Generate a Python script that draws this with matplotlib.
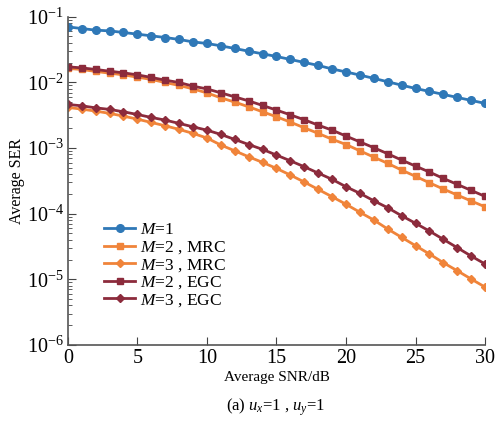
import matplotlib
matplotlib.use('Agg')
import matplotlib.pyplot as plt
import numpy as np

snr_db = list(range(0, 31))

ser_m1 = [0.0700, 0.0660, 0.0624, 0.0608, 0.0575, 0.0542, 0.0511, 0.0482, 0.0450, 0.0413,
          0.0391, 0.0360, 0.0328, 0.0298, 0.0272, 0.0248, 0.0223, 0.0201, 0.0181, 0.0160,
          0.0144, 0.0129, 0.0115, 0.0102, 0.00906, 0.00807, 0.00727, 0.00655, 0.00589, 0.00531,
          0.00478]

ser_m2_mrc = [0.01629, 0.01570, 0.01466, 0.01380, 0.01300, 0.01200, 0.01107, 0.00995, 0.00897, 0.00796,
              0.00690, 0.00581, 0.00500, 0.00424, 0.00356, 0.00299, 0.00248, 0.00203, 0.00167, 0.00136,
              0.00113, 0.000906, 0.000726, 0.000583, 0.000461, 0.000370, 0.000295, 0.000237, 0.000192, 0.000156,
              0.000127]

ser_m3_mrc = [0.00415, 0.00391, 0.00365, 0.00337, 0.00306, 0.00275, 0.00245, 0.00218, 0.00192, 0.00167,
              0.00142, 0.00111, 0.000906, 0.000735, 0.000604, 0.000489, 0.000387, 0.000303, 0.000234, 0.000181,
              0.000139, 0.000105, 8.00e-5, 5.83e-5, 4.36e-5, 3.25e-5, 2.43e-5, 1.79e-5, 1.35e-5, 1.01e-5,
              7.6e-6]

ser_m2_egc = [0.01722, 0.01663, 0.01570, 0.01479, 0.01396, 0.01300, 0.01189, 0.01079, 0.00995, 0.00875,
              0.00794, 0.00692, 0.00601, 0.00522, 0.00445, 0.00378, 0.00320, 0.00269, 0.00223, 0.00187,
              0.00152, 0.00124, 0.00101, 0.000817, 0.000655, 0.000530, 0.000430, 0.000344, 0.000279, 0.000226,
              0.000183]

ser_m3_egc = [0.00461, 0.00439, 0.00409, 0.00387, 0.00356, 0.00324, 0.00292, 0.00266, 0.00237, 0.00210,
              0.00187, 0.00161, 0.00135, 0.00113, 0.000953, 0.000780, 0.000638, 0.000518, 0.000415, 0.000333,
              0.000257, 0.000204, 0.000157, 0.000123, 9.29e-5, 7.13e-5, 5.43e-5, 4.06e-5, 3.03e-5, 2.26e-5,
              1.71e-5]

labels = ['$M$=1', '$M$=2 , MRC', '$M$=3 , MRC', '$M$=2 , EGC', '$M$=3 , EGC']

plt.rcParams['font.family'] = ['Liberation Serif', 'DejaVu Serif']
plt.rcParams['mathtext.fontset'] = 'custom'
plt.rcParams['mathtext.rm'] = 'Liberation Serif'
plt.rcParams['mathtext.it'] = 'Liberation Serif:italic'

blue = '#2f78b7'
orange = '#f0843a'
darkred = '#8c2b3c'

fig = plt.figure(figsize=(4.95, 4.28), dpi=100)
ax = fig.add_axes([0.137, 0.194, 0.843, 0.767])

ax.semilogy(snr_db, ser_m1, color=blue, marker='o', ms=5.5, lw=2, label=labels[0])
ax.semilogy(snr_db, ser_m2_mrc, color=orange, marker='s', ms=4.5, lw=2, label=labels[1])
ax.semilogy(snr_db, ser_m3_mrc, color=orange, marker='D', ms=4.5, lw=2, label=labels[2])
ax.semilogy(snr_db, ser_m2_egc, color=darkred, marker='s', ms=4.5, lw=2, label=labels[3])
ax.semilogy(snr_db, ser_m3_egc, color=darkred, marker='D', ms=4.5, lw=2, label=labels[4])

ax.set_xlim(0, 30)
ax.set_ylim(1e-6, 1e-1)
ax.set_xticks([0, 5, 10, 15, 20, 25, 30])

for s in ['top', 'right']:
    ax.spines[s].set_visible(False)
for s in ['left', 'bottom']:
    ax.spines[s].set_color('#555555')
    ax.spines[s].set_linewidth(1.2)

ax.tick_params(axis='both', which='both', direction='in', colors='#444444', labelcolor='black', labelsize=14.5)
ax.tick_params(axis='both', which='major', length=6, pad=3)
ax.tick_params(axis='y', which='minor', length=3)

ax.set_xlabel('Average SNR/dB', fontsize=11, labelpad=2)
ax.set_ylabel('Average SER', fontsize=11.5, labelpad=1)

ax.legend(loc='upper left', bbox_to_anchor=(0.07, 0.395), frameon=False, fontsize=12.5,
          handlelength=1.8, handletextpad=0.3, labelspacing=0.05, borderaxespad=0)

fig.text(0.557, 0.024, '(a) $u_x$=1 , $u_y$=1', ha='center', va='bottom', fontsize=12)

fig.savefig('out.png', dpi=100)
